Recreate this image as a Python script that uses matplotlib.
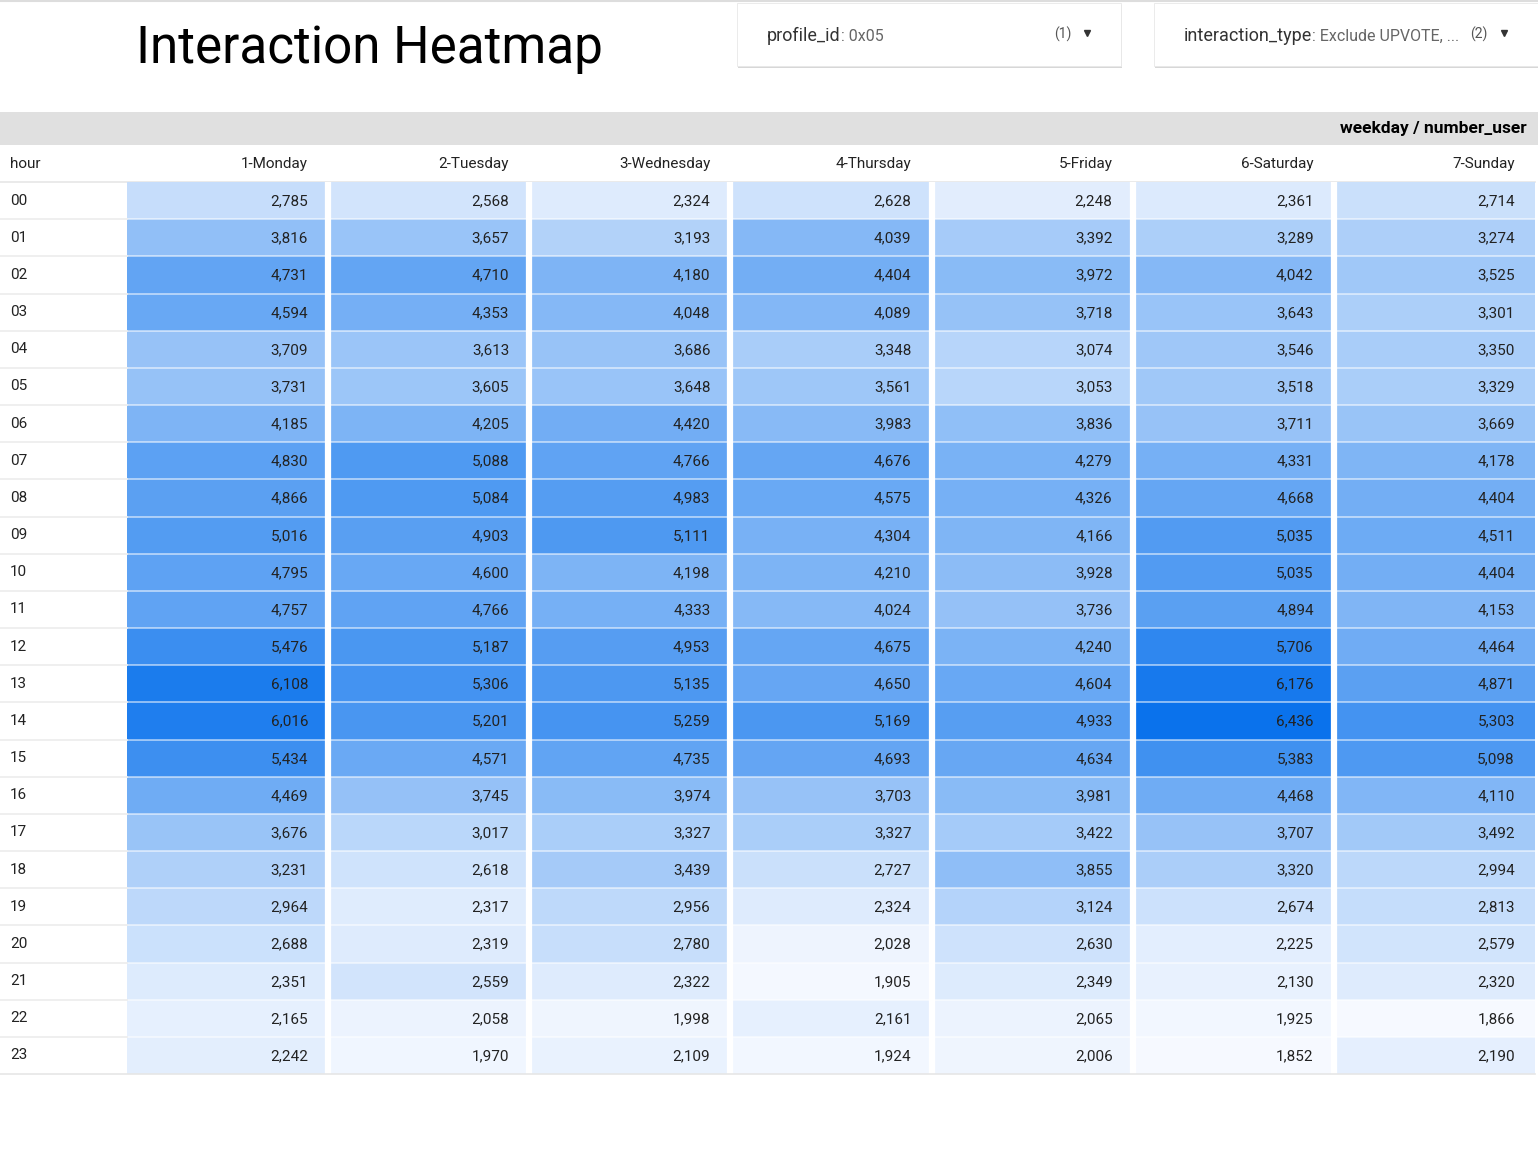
import numpy as np
import matplotlib
matplotlib.use("Agg")
import matplotlib.pyplot as plt
from matplotlib.colors import LinearSegmentedColormap
from matplotlib.patches import Rectangle
from matplotlib.transforms import blended_transform_factory

plt.rcParams['font.family'] = ['Roboto', 'DejaVu Sans']

hours = ['%02d' % h for h in range(24)]
days = ['1-Monday', '2-Tuesday', '3-Wednesday', '4-Thursday', '5-Friday', '6-Saturday', '7-Sunday']

monday = [2785, 3816, 4731, 4594, 3709, 3731, 4185, 4830, 4866, 5016, 4795, 4757,
          5476, 6108, 6016, 5434, 4469, 3676, 3231, 2964, 2688, 2351, 2165, 2242]
tuesday = [2568, 3657, 4710, 4353, 3613, 3605, 4205, 5088, 5084, 4903, 4600, 4766,
           5187, 5306, 5201, 4571, 3745, 3017, 2618, 2317, 2319, 2559, 2058, 1970]
wednesday = [2324, 3193, 4180, 4048, 3686, 3648, 4420, 4766, 4983, 5111, 4198, 4333,
             4953, 5135, 5259, 4735, 3974, 3327, 3439, 2956, 2780, 2322, 1998, 2109]
thursday = [2628, 4039, 4404, 4089, 3348, 3561, 3983, 4676, 4575, 4304, 4210, 4024,
            4675, 4650, 5169, 4693, 3703, 3327, 2727, 2324, 2028, 1905, 2161, 1924]
friday = [2248, 3392, 3972, 3718, 3074, 3053, 3836, 4279, 4326, 4166, 3928, 3736,
          4240, 4604, 4933, 4634, 3981, 3422, 3855, 3124, 2630, 2349, 2065, 2006]
saturday = [2361, 3289, 4042, 3643, 3546, 3518, 3711, 4331, 4668, 5035, 5035, 4894,
            5706, 6176, 6436, 5383, 4468, 3707, 3320, 2674, 2225, 2130, 1925, 1852]
sunday = [2714, 3274, 3525, 3301, 3350, 3329, 3669, 4178, 4404, 4511, 4404, 4153,
          4464, 4871, 5303, 5098, 4110, 3492, 2994, 2813, 2579, 2320, 1866, 2190]

values = np.array([monday, tuesday, wednesday, thursday, friday, saturday, sunday]).T

W, H = 1538, 1154
fig = plt.figure(figsize=(W / 100, H / 100), dpi=100)
fig.patch.set_facecolor('white')
renderer = fig.canvas.get_renderer()

# overlay axes in pixel coords for the page decorations
bg = fig.add_axes([0, 0, 1, 1])
bg.set_xlim(0, W)
bg.set_ylim(H, 0)
bg.axis('off')


def label_pair(x, y, key, val):
    # "key: value" with the key darker and a bit larger
    t = bg.text(x, y, key, fontsize=13, color='#333333', va='baseline')
    bb = t.get_window_extent(renderer=renderer)
    x_end = bg.transData.inverted().transform((bb.x1, bb.y0))[0]
    bg.text(x_end, y, ': ' + val, fontsize=11.5, color='#666666', va='baseline')


bg.axhline(1, color='#dddddd', lw=1.5)
bg.text(136, 63, 'Interaction Heatmap', fontsize=36.8, color='black', va='baseline')

# filter boxes
for x0, x1 in [(737, 1121), (1154, 1538)]:
    bg.add_patch(Rectangle((x0 + 1, 5), x1 - x0, 63, color='#b0b0b0', alpha=0.5, lw=0))
    bg.add_patch(Rectangle((x0, 3), x1 - x0, 63, facecolor='white', edgecolor='#e8e8e8', lw=0.6))
label_pair(767, 41, 'profile_id', '0x05')
bg.text(1054, 39, '(1)', fontsize=10, color='#555555', va='baseline')
bg.plot(1087, 33, marker='v', ms=4, color='#333333')
label_pair(1184, 41, 'interaction_type', 'Exclude UPVOTE, ...')
bg.text(1470, 39, '(2)', fontsize=10, color='#555555', va='baseline')
bg.plot(1504, 33, marker='v', ms=4, color='#333333')

# header band
bg.add_patch(Rectangle((0, 112), W, 33, color='#e0e0e0', lw=0))
bg.text(1527, 129, 'weekday / number_user', fontsize=12.5, fontweight='bold',
        color='black', ha='right', va='center')
bg.text(10, 164, 'hour', fontsize=11, color='#222222', va='center')
bg.plot([0, 1535], [182, 182], color='#e6e6e6', lw=1.2)

# heatmap grid
ax = fig.add_axes([127 / W, 1 - 1074 / H, 1408 / W, 892 / H])
cmap = LinearSegmentedColormap.from_list('blues', ['#f6f9ff', '#0a72ec'])
ax.pcolormesh(np.arange(len(days) + 1), np.arange(len(hours) + 1), values,
              cmap=cmap, vmin=values.min(), vmax=values.max())
ax.set_xlim(0, len(days))
ax.set_ylim(len(hours), 0)
ax.axis('off')

for j in range(1, len(days)):
    ax.axvline(j, color='white', lw=4.5)
for i in range(1, len(hours)):
    ax.axhline(i, color='white', lw=1.2, alpha=0.6)
    ax.plot([-0.632, 0], [i, i], color='#ececec', lw=1.2, clip_on=False)
ax.plot([-0.632, len(days)], [len(hours), len(hours)], color='#e6e6e6', lw=1.2, clip_on=False)

for j, d in enumerate(days):
    ax.text(j + 1 - 0.1, -0.48, d, fontsize=11, color='#222222', ha='right', va='center')
    for i in range(len(hours)):
        ax.text(j + 1 - 0.1, i + 0.52, f'{values[i, j]:,}', fontsize=11,
                color='#222222', ha='right', va='center')

trans = blended_transform_factory(fig.transFigure, ax.transData)
for i, h in enumerate(hours):
    ax.text(10 / W, i + 0.5, h, transform=trans, fontsize=11, color='#222222',
            ha='left', va='center')

fig.savefig('out.png', dpi=100, facecolor='white')
